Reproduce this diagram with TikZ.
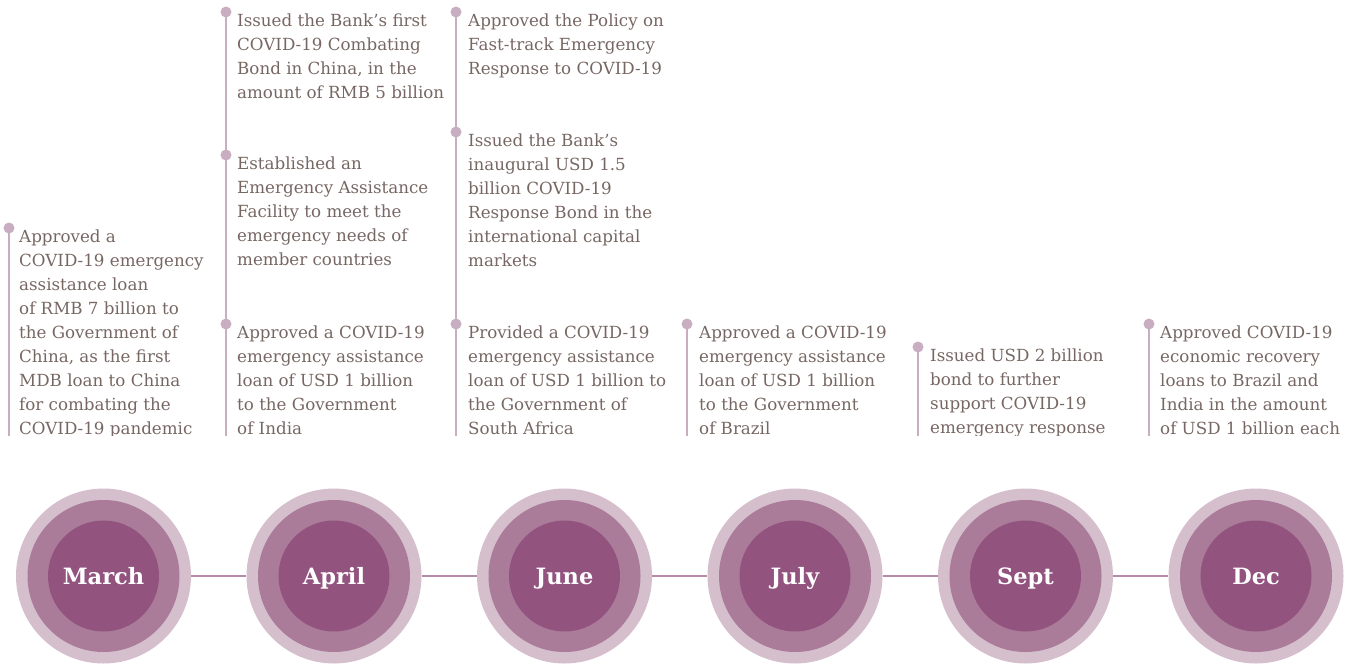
\documentclass[tikz,border=0pt]{standalone}
\usepackage{fontspec}
\setmainfont{DejaVu Serif}
\definecolor{dotc}{HTML}{C9ADC1}
\definecolor{outc}{HTML}{D5BFCD}
\definecolor{midc}{HTML}{AA7C9A}
\definecolor{innc}{HTML}{92537F}
\definecolor{connc}{HTML}{B68BA9}
\definecolor{txtc}{HTML}{776762}
\tikzset{
  tdot/.style={circle, fill=dotc, inner sep=0pt, minimum size=11pt},
  vline/.style={draw=dotc, line width=2pt},
  item/.style={anchor=north west, inner sep=0pt, align=left, text=txtc,
    font=\fontsize{16.7}{24}\selectfont},
  ringout/.style={circle, fill=outc, inner sep=0pt, minimum size=175pt},
  ringmid/.style={circle, fill=midc, inner sep=0pt, minimum size=152pt},
  ringin/.style={circle, fill=innc, inner sep=0pt, minimum size=111pt,
    text=white, text height=16.5pt, text depth=0pt,
    font=\bfseries\fontsize{22.5}{26}\selectfont},
  conn/.style={draw=connc, line width=2pt}
}
\begin{document}
\begin{tikzpicture}[x=1pt,y=-1pt]
\useasboundingbox (0,0) rectangle (1360,664);
% month circles
\foreach \i/\m [evaluate=\i as \cx using 103.5+230.5*(\i-1)] in {1/March,2/April,3/June,4/July,5/Sept,6/Dec}{
  \node[ringout] (o\i) at (\cx,576) {};
  \node[ringmid] (m\i) at (\cx,576) {};
  \node[ringin] (c\i) at (\cx,576) {\m};
}
\foreach \a/\b in {1/2,2/3,3/4,4/5,5/6}{
  \draw[conn] (o\a) -- (o\b);
}
% events
\begin{scope}
\clip (0,0) rectangle (1360,435);
\coordinate (e1) at (9,436);
\coordinate (e2) at (226,436);
\coordinate (e3) at (456,436);
\coordinate (e4) at (687,436);
\coordinate (e5) at (918,436);
\coordinate (e6) at (1149,436);
\node[tdot] (d1) at (9,228) {};
\node[tdot] (d2a) at (226,12) {};
\node[tdot] (d2b) at (226,155) {};
\node[tdot] (d2c) at (226,324) {};
\node[tdot] (d3a) at (456,12) {};
\node[tdot] (d3b) at (456,132) {};
\node[tdot] (d3c) at (456,324) {};
\node[tdot] (d4) at (687,324) {};
\node[tdot] (d5) at (918,347) {};
\node[tdot] (d6) at (1149,324) {};
\draw[vline] (d1.center) -- (e1);
\draw[vline] (d2a.center) -- (e2);
\draw[vline] (d3a.center) -- (e3);
\draw[vline] (d4.center) -- (e4);
\draw[vline] (d5.center) -- (e5);
\draw[vline] (d6.center) -- (e6);
\node[item] (t1) at (19,230) {Approved a\\COVID-19 emergency\\assistance loan\\of RMB 7 billion to\\the Government of\\China, as the first\\MDB loan to China\\for combating the\\COVID-19 pandemic};
\node[item] (t2a) at (237,14) {Issued the Bank’s first\\COVID-19 Combating\\Bond in China, in the\\amount of RMB 5 billion};
\node[item] (t2b) at (237,157) {Established an\\Emergency Assistance\\Facility to meet the\\emergency needs of\\member countries};
\node[item] (t2c) at (237,326) {Approved a COVID-19\\emergency assistance\\loan of USD 1 billion\\to the Government\\of India};
\node[item] (t3a) at (468,14) {Approved the Policy on\\Fast-track Emergency\\Response to COVID-19};
\node[item] (t3b) at (468,134) {Issued the Bank’s\\inaugural USD 1.5\\billion COVID-19\\Response Bond in the\\international capital\\markets};
\node[item] (t3c) at (468,326) {Provided a COVID-19\\emergency assistance\\loan of USD 1 billion to\\the Government of\\South Africa};
\node[item] (t4) at (699,326) {Approved a COVID-19\\emergency assistance\\loan of USD 1 billion\\to the Government\\of Brazil};
\node[item] (t5) at (930,349) {Issued USD 2 billion\\bond to further\\support COVID-19\\emergency response};
\node[item] (t6) at (1160,326) {Approved COVID-19\\economic recovery\\loans to Brazil and\\India in the amount\\of USD 1 billion each};
\end{scope}
\end{tikzpicture}
\end{document}
